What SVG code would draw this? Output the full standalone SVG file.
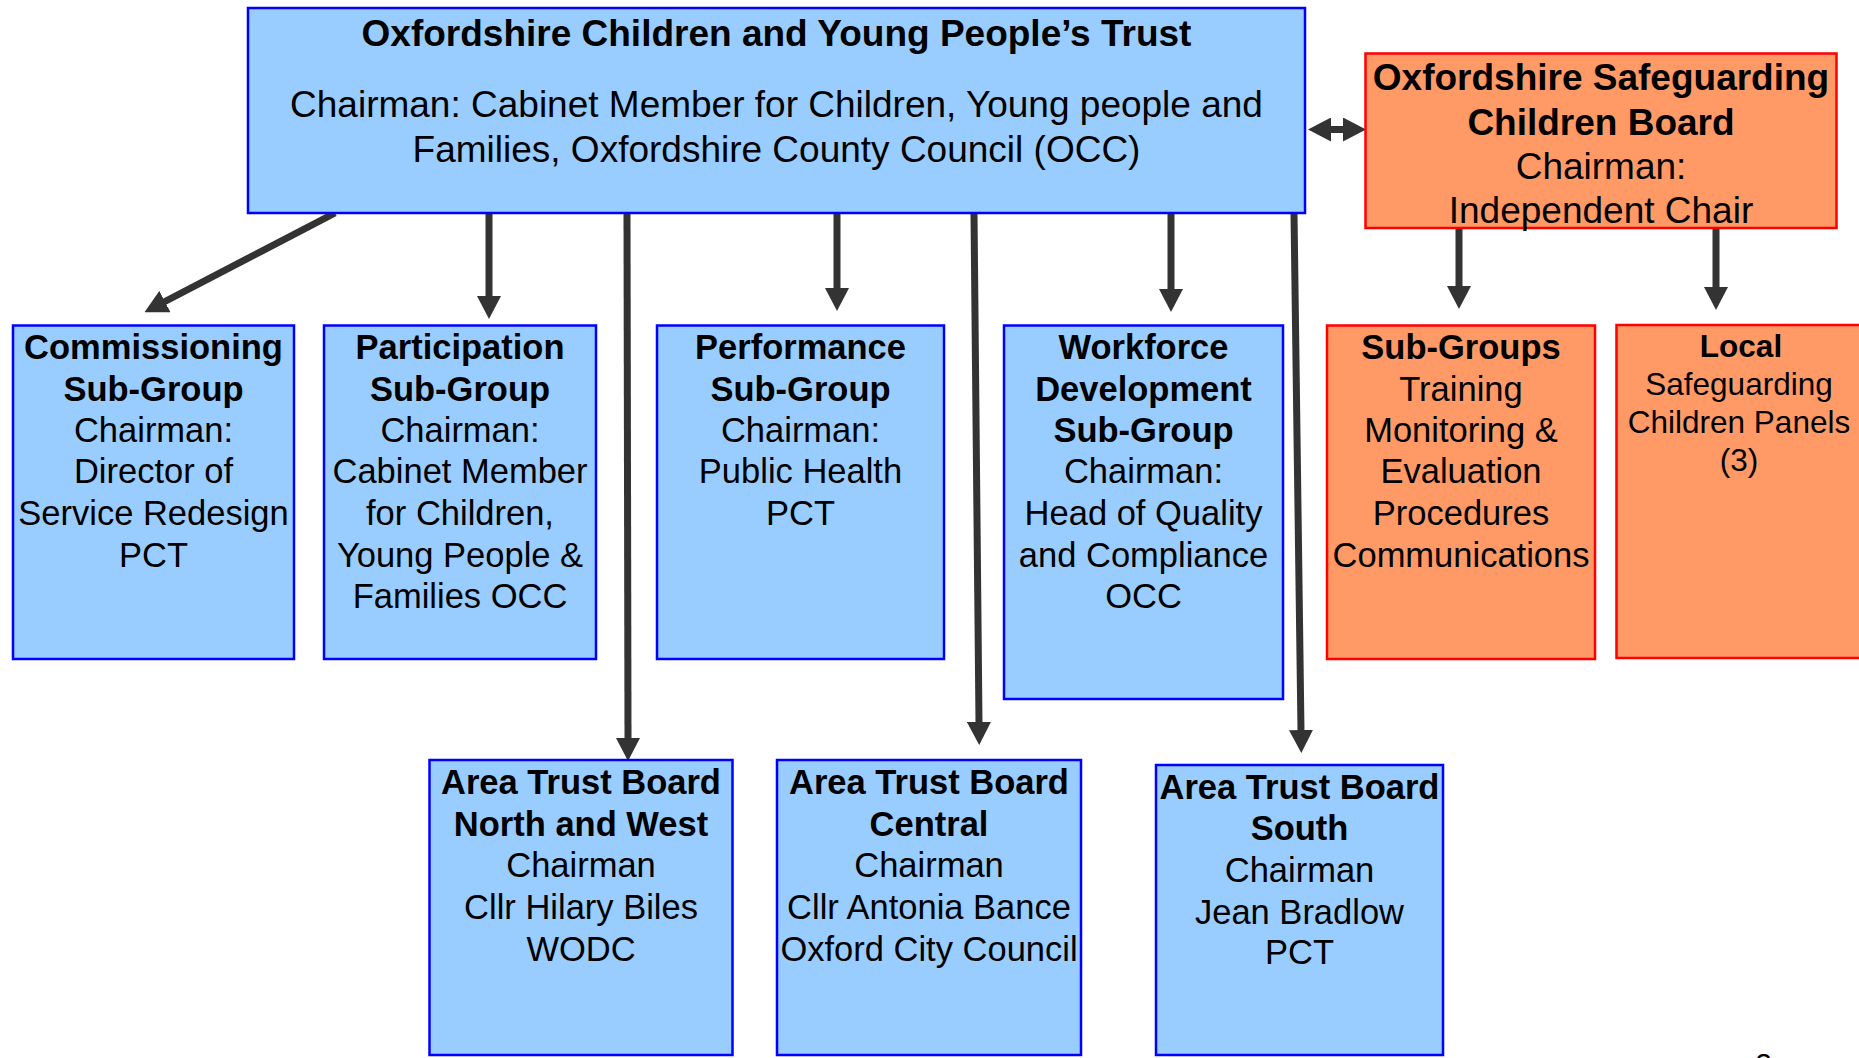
<svg xmlns="http://www.w3.org/2000/svg" width="1859" height="1058" viewBox="0 0 1859 1058">
<style>
.blue{fill:#99CCFF;stroke:#0000FF;stroke-width:2.5}
.orange{fill:#FF9966;stroke:#FF0000;stroke-width:2.5}
text{font-family:"Liberation Sans",Arial,sans-serif;fill:#000;text-anchor:middle}
.big{font-size:37px}
.mid{font-size:34.5px}
.sm{font-size:31.5px}
.b{font-weight:bold}
.conn{stroke:#333333;stroke-width:7;fill:none}
</style>
<defs>
<marker id="ah" markerUnits="userSpaceOnUse" markerWidth="23" markerHeight="24" viewBox="0 0 23 24" refX="1" refY="12" orient="auto-start-reverse">
<path d="M0,0 L23,12 L0,24 Z" fill="#333333"/>
</marker>
</defs>
<rect x="0" y="0" width="1859" height="1058" fill="#FFFFFF"/>

<g id="connectors">
<line class="conn" x1="335" y1="213" x2="164" y2="302" marker-end="url(#ah)"/>
<line class="conn" x1="489" y1="213" x2="489" y2="297" marker-end="url(#ah)"/>
<line class="conn" x1="627" y1="213" x2="628" y2="739" marker-end="url(#ah)"/>
<line class="conn" x1="837" y1="213" x2="837" y2="289" marker-end="url(#ah)"/>
<line class="conn" x1="974" y1="213" x2="979" y2="723" marker-end="url(#ah)"/>
<line class="conn" x1="1171" y1="213" x2="1171" y2="290" marker-end="url(#ah)"/>
<line class="conn" x1="1294" y1="213" x2="1301" y2="731" marker-end="url(#ah)"/>
<line class="conn" x1="1459" y1="229" x2="1459" y2="287" marker-end="url(#ah)"/>
<line class="conn" x1="1716" y1="228" x2="1716" y2="288" marker-end="url(#ah)"/>
<line class="conn" x1="1330" y1="129.5" x2="1344" y2="129.5" marker-start="url(#ah)" marker-end="url(#ah)"/>
</g>

<g id="trust">
<rect class="blue" x="248" y="8" width="1057" height="205"/>
<text class="big b" x="776.5" y="45.5">Oxfordshire Children and Young People’s Trust</text>
<text class="big" x="776.5" y="116.5">Chairman: Cabinet Member for Children, Young people and</text>
<text class="big" x="776.5" y="162">Families, Oxfordshire County Council (OCC)</text>
</g>

<g id="safeguarding-board">
<rect class="orange" x="1365.5" y="53.5" width="471" height="174.5"/>
<text class="big b" x="1601" y="89.5">Oxfordshire Safeguarding</text>
<text class="big b" x="1601" y="134.5">Children Board</text>
<text class="big" x="1601" y="179">Chairman:</text>
<text class="big" x="1601" y="223">Independent Chair</text>
</g>

<g id="commissioning">
<rect class="blue" x="13" y="325.5" width="281" height="333.5"/>
<text class="mid b" x="153.5" y="359">Commissioning</text>
<text class="mid b" x="153.5" y="400.5">Sub-Group</text>
<text class="mid" x="153.5" y="442">Chairman:</text>
<text class="mid" x="153.5" y="483">Director of</text>
<text class="mid" x="153.5" y="525">Service Redesign</text>
<text class="mid" x="153.5" y="566.5">PCT</text>
</g>

<g id="participation">
<rect class="blue" x="324" y="325.5" width="272" height="333.5"/>
<text class="mid b" x="460" y="359">Participation</text>
<text class="mid b" x="460" y="400.5">Sub-Group</text>
<text class="mid" x="460" y="442">Chairman:</text>
<text class="mid" x="460" y="483">Cabinet Member</text>
<text class="mid" x="460" y="525">for Children,</text>
<text class="mid" x="460" y="566.5">Young People &amp;</text>
<text class="mid" x="460" y="608">Families OCC</text>
</g>

<g id="performance">
<rect class="blue" x="657" y="325.5" width="287" height="333.5"/>
<text class="mid b" x="800.5" y="359">Performance</text>
<text class="mid b" x="800.5" y="400.5">Sub-Group</text>
<text class="mid" x="800.5" y="442">Chairman:</text>
<text class="mid" x="800.5" y="483">Public Health</text>
<text class="mid" x="800.5" y="525">PCT</text>
</g>

<g id="workforce">
<rect class="blue" x="1004" y="325.5" width="279" height="373.5"/>
<text class="mid b" x="1143.5" y="359">Workforce</text>
<text class="mid b" x="1143.5" y="400.5">Development</text>
<text class="mid b" x="1143.5" y="442">Sub-Group</text>
<text class="mid" x="1143.5" y="483">Chairman:</text>
<text class="mid" x="1143.5" y="525">Head of Quality</text>
<text class="mid" x="1143.5" y="567">and Compliance</text>
<text class="mid" x="1143.5" y="608">OCC</text>
</g>

<g id="sub-groups">
<rect class="orange" x="1327" y="325.5" width="268" height="333.5"/>
<text class="mid b" x="1461" y="359">Sub-Groups</text>
<text class="mid" x="1461" y="400.5">Training</text>
<text class="mid" x="1461" y="442">Monitoring &amp;</text>
<text class="mid" x="1461" y="483">Evaluation</text>
<text class="mid" x="1461" y="525">Procedures</text>
<text class="mid" x="1461" y="566.5">Communications</text>
</g>

<g id="local-panels">
<rect class="orange" x="1616.5" y="325" width="248" height="333"/>
<text class="sm b" x="1741" y="356.5">Local</text>
<text class="sm" x="1739" y="395">Safeguarding</text>
<text class="sm" x="1739" y="433">Children Panels</text>
<text class="sm" x="1739" y="471">(3)</text>
</g>

<g id="area-north-west">
<rect class="blue" x="429.5" y="760" width="303" height="295"/>
<text class="mid b" x="581" y="793.5">Area Trust Board</text>
<text class="mid b" x="581" y="836">North and West</text>
<text class="mid" x="581" y="877">Chairman</text>
<text class="mid" x="581" y="919">Cllr Hilary Biles</text>
<text class="mid" x="581" y="961">WODC</text>
</g>

<g id="area-central">
<rect class="blue" x="777" y="760" width="304" height="295"/>
<text class="mid b" x="929" y="793.5">Area Trust Board</text>
<text class="mid b" x="929" y="836">Central</text>
<text class="mid" x="929" y="877">Chairman</text>
<text class="mid" x="929" y="919">Cllr Antonia Bance</text>
<text class="mid" x="929" y="961">Oxford City Council</text>
</g>

<g id="area-south">
<rect class="blue" x="1156" y="765" width="287" height="290"/>
<text class="mid b" x="1299.5" y="799">Area Trust Board</text>
<text class="mid b" x="1299.5" y="840">South</text>
<text class="mid" x="1299.5" y="881.5">Chairman</text>
<text class="mid" x="1299.5" y="924">Jean Bradlow</text>
<text class="mid" x="1299.5" y="964">PCT</text>
</g>

<text x="1763.5" y="1074" style="font-size:30px">2</text>
</svg>
